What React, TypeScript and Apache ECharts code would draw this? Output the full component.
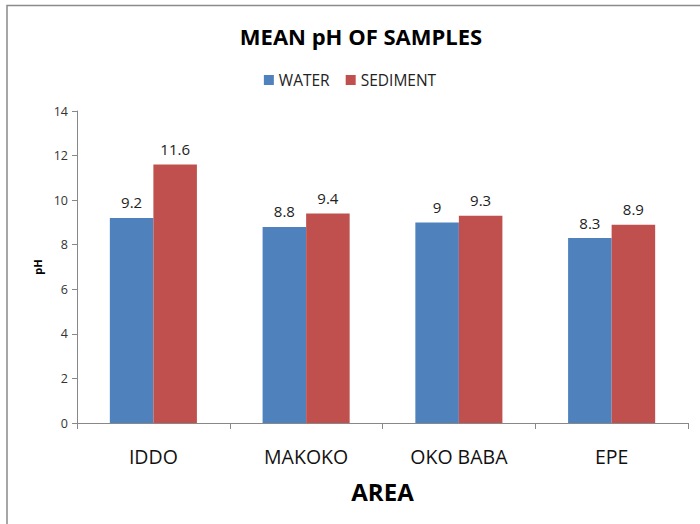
import React, { useEffect, useRef } from "react";
import * as echarts from "echarts";

const categories = ["IDDO", "MAKOKO", "OKO BABA", "EPE"];
const waterValues = [9.2, 8.8, 9, 8.3];
const sedimentValues = [11.6, 9.4, 9.3, 8.9];
const seriesNames = ["WATER", "SEDIMENT"];

const FONT = "'Open Sans', 'Liberation Sans', sans-serif";

export default function App() {
  const ref = useRef<HTMLDivElement>(null);
  useEffect(() => {
    if (!ref.current) return;
    const chart = echarts.init(ref.current, null, { renderer: "svg" });
    const labelStyle = {
      show: true,
      position: "top" as const,
      distance: 8,
      fontFamily: FONT,
      fontSize: 15,
      color: "#222",
    };
    chart.setOption({
      animation: false,
      backgroundColor: "#fff",
      title: {
        text: "MEAN pH OF SAMPLES",
        left: 356,
        textAlign: "center",
        top: 20,
        textStyle: { fontFamily: FONT, fontSize: 22, fontWeight: "bold", color: "#000" },
      },
      legend: {
        data: seriesNames,
        top: 67,
        left: "center",
        itemWidth: 10,
        itemHeight: 10,
        itemGap: 16,
        icon: "rect",
        textStyle: { fontFamily: FONT, fontSize: 15.5, color: "#222" },
      },
      grid: { left: 77, right: 12, top: 111, bottom: 101, containLabel: false },
      xAxis: {
        type: "category",
        data: categories,
        name: "AREA",
        nameLocation: "middle",
        nameGap: 56,
        nameTextStyle: { fontFamily: FONT, fontSize: 24, fontWeight: "bold", color: "#000" },
        axisLine: { lineStyle: { color: "#888" } },
        axisTick: { show: true, alignWithLabel: false, length: 6, lineStyle: { color: "#888" } },
        axisLabel: { fontFamily: FONT, fontSize: 19.5, color: "#111", margin: 23 },
      },
      yAxis: {
        type: "value",
        min: 0,
        max: 14,
        interval: 2,
        name: "pH",
        nameLocation: "middle",
        nameGap: 34,
        nameRotate: 90,
        nameTextStyle: { fontFamily: FONT, fontSize: 11, fontWeight: "bold", color: "#000" },
        axisLine: { show: true, lineStyle: { color: "#888" } },
        axisTick: { show: true, length: 5, lineStyle: { color: "#888" } },
        axisLabel: { fontFamily: FONT, fontSize: 12.5, color: "#333", margin: 9 },
        splitLine: { show: false },
      },
      series: [
        {
          name: seriesNames[0],
          type: "bar",
          data: waterValues,
          itemStyle: { color: "#4F81BD" },
          barGap: "0%",
          barCategoryGap: "43%",
          label: labelStyle,
        },
        {
          name: seriesNames[1],
          type: "bar",
          data: sedimentValues,
          itemStyle: { color: "#C0504D" },
          barGap: "0%",
          barCategoryGap: "43%",
          label: labelStyle,
        },
      ],
      graphic: [
        {
          type: "polyline",
          shape: { points: [[7, 524], [7, 5.5], [700, 5.5]] },
          style: { stroke: "#8a8a8a", lineWidth: 1.5, fill: "none" },
          silent: true,
        },
      ],
    });
    return () => chart.dispose();
  }, []);
  return (
    <div
      ref={ref}
      style={{ position: "absolute", left: 0, top: 0, width: 700, height: 524 }}
    />
  );
}
